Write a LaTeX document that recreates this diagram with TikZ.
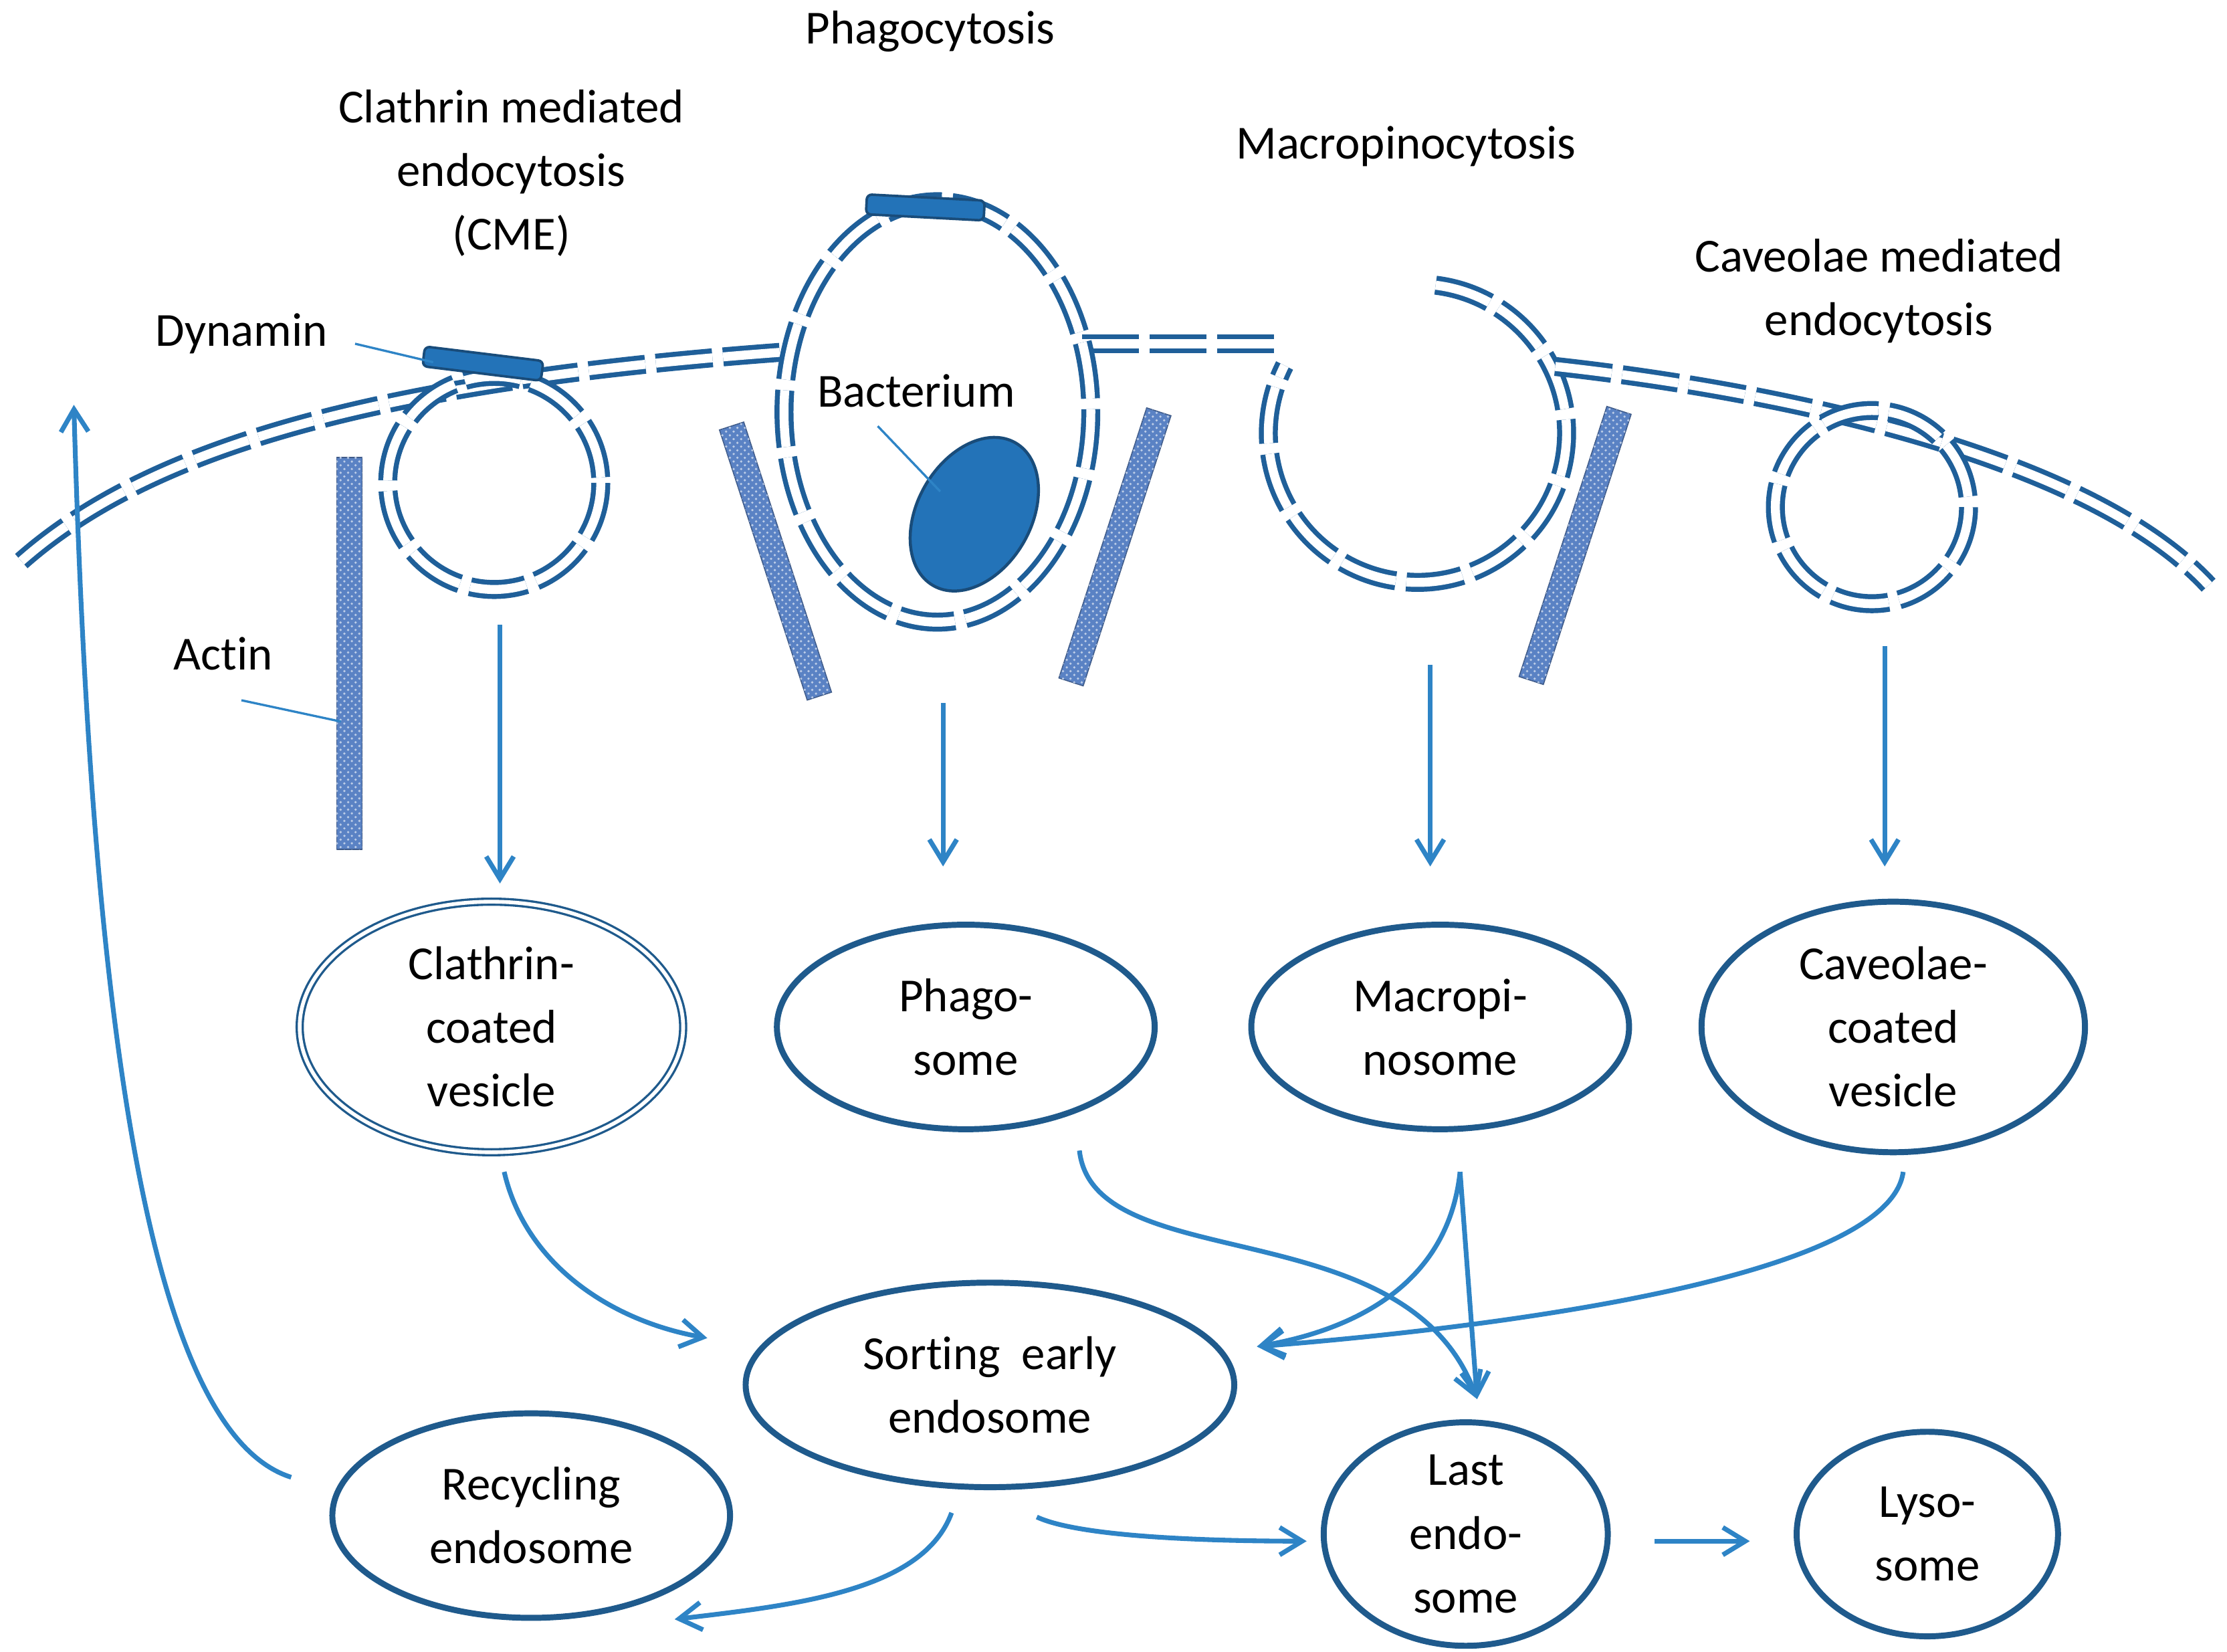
\documentclass[tikz,border=0pt]{standalone}
\usepackage{fontspec}
\setmainfont{Carlito}[Ligatures=NoCommon]
\usetikzlibrary{arrows.meta,patterns,shapes.geometric}
\definecolor{memb}{HTML}{1F5F99}
\definecolor{edge}{HTML}{1F5A8C}
\definecolor{arr}{HTML}{2E84C6}
\definecolor{actin}{HTML}{5A82C4}
\definecolor{bact}{HTML}{2373B8}
\begin{document}
\begin{tikzpicture}[x=0.02cm,y=-0.02cm,
  mem/.style={draw=memb,line width=2pt,double=white,double distance=3.6pt,dash pattern=on 0.8cm off 0.15cm},
  act/.style={draw=actin!70!black,line width=0.4pt,fill=actin,postaction={pattern=crosshatch dots,pattern color=white!60!actin}},
  ell/.style={ellipse,draw=edge,line width=2.4pt,align=center,font=\fontsize{19}{25.5}\selectfont},
  lab/.style={align=center,font=\fontsize{19}{25.5}\selectfont},
  ar/.style={draw=arr,line width=1.9pt,-{Straight Barb[length=9pt,width=11pt]}},
  pt/.style={draw=arr,line width=0.9pt}]
\useasboundingbox (0,0) rectangle (1568,1163);
% membrane
\draw[mem] (15,395) .. controls (100,320) and (250,270) .. (550,248);
\draw[mem] (762,242) -- (902,242);
\draw[mem] (998,305) ++(-83:105) arc[start angle=-83,end angle=207,radius=105];
\draw[mem] (1095,258) .. controls (1250,275) and (1470,320) .. (1555,412);
\draw[mem] (348,340) circle[radius=75];
\draw[mem] (1318,357) circle[radius=68];
\draw[mem] (660,290) ellipse[x radius=108,y radius=148];
% dynamin bars
\draw[draw=memb!80!black,fill=bact,line width=1pt,rounded corners=2pt,rotate around={-7:(340,256)}] (298,249) rectangle (382,263);
\draw[draw=memb!80!black,fill=bact,line width=1pt,rounded corners=2pt,rotate around={-3:(651,146)}] (610,139) rectangle (693,153);
% actin
\node[act,minimum width=18*0.02cm,minimum height=276*0.02cm,inner sep=0] (a1) at (246,460) {};
\node[act,minimum width=18*0.02cm,minimum height=200*0.02cm,inner sep=0,rotate=18] (a2) at (546,395) {};
\node[act,minimum width=18*0.02cm,minimum height=200*0.02cm,inner sep=0,rotate=-18] (a3) at (785,385) {};
\node[act,minimum width=18*0.02cm,minimum height=200*0.02cm,inner sep=0,rotate=-18] (a4) at (1109,384) {};
% bacterium
\node[ellipse,draw=memb!80!black,fill=bact,line width=1.2pt,minimum width=80*0.02cm,minimum height=116*0.02cm,rotate=-30,inner sep=0] (bac) at (686,362) {};
% labels
\node[lab] (tphago) at (655,22) {Phagocytosis};
\node[lab] (tcme) at (360,122) {Clathrin mediated\\endocytosis\\(CME)};
\node[lab] (tmacro) at (990,103) {Macropinocytosis};
\node[lab] (tcav) at (1323,205) {Caveolae mediated\\endocytosis};
\node[lab] (tdyn) at (170,235) {Dynamin};
\node[lab] (tbac) at (645,275) {Bacterium};
\node[lab] (tact) at (157,460) {Actin};
\coordinate (dynend) at (305,255); \coordinate (dynst) at (250,242);
\coordinate (bacst) at (618,300); \coordinate (bacend) at (662,346);
\coordinate (actst) at (170,493); \coordinate (actend) at (240,508);
\draw[pt] (dynst) -- (dynend);
\draw[pt] (bacst) -- (bacend);
\draw[pt] (actst) -- (actend);
% ellipses
\node[ell,double,double distance=1.5pt,line width=0.9pt,minimum width=270*0.02cm,minimum height=146*0.02cm] (cl) at (346,723) {Clathrin-\\coated\\vesicle};
\node[ell,minimum width=266*0.02cm,minimum height=144*0.02cm] (ph) at (680,723) {Phago-\\some};
\node[ell,minimum width=266*0.02cm,minimum height=144*0.02cm] (ma) at (1014,723) {Macropi-\\nosome};
\node[ell,minimum width=270*0.02cm,minimum height=144*0.02cm] (ca) at (1333,723) {Caveolae-\\coated\\vesicle};
\node[ell,minimum width=344*0.02cm,minimum height=144*0.02cm] (so) at (697,975) {Sorting\ \ early\\endosome};
\node[ell,minimum width=280*0.02cm,minimum height=144*0.02cm] (re) at (374,1067) {Recycling\\endosome};
\node[ell,minimum width=200*0.02cm,minimum height=144*0.02cm,inner sep=0] (la) at (1032,1080) {Last\\endo-\\some};
\node[ell,minimum width=184*0.02cm,minimum height=144*0.02cm] (ly) at (1357,1080) {Lyso-\\some};
% arrows
\coordinate (c1) at (352,440); \coordinate (c1e) at (352,622);
\coordinate (c2) at (664,495); \coordinate (c2e) at (664,610);
\coordinate (c3) at (1007,468); \coordinate (c3e) at (1007,610);
\coordinate (c4) at (1327,455); \coordinate (c4e) at (1327,610);
\draw[ar] (c1) -- (c1e);
\draw[ar] (c2) -- (c2e);
\draw[ar] (c3) -- (c3e);
\draw[ar] (c4) -- (c4e);
\coordinate (s1) at (355,825); \coordinate (e1) at (498,942);
\draw[ar] (s1) .. controls (370,890) and (430,930) .. (e1);
\coordinate (s2) at (760,810); \coordinate (e2) at (1040,985);
\draw[ar] (s2) .. controls (770,900) and (990,850) .. (e2);
\coordinate (s3) at (1028,825); \coordinate (e3) at (885,948);
\draw[ar] (s3) .. controls (1020,900) and (960,935) .. (e3);
\draw[ar] (s3) -- (e2);
\coordinate (s4) at (1340,825);
\draw[ar] (s4) .. controls (1330,900) and (1050,935) .. (e3);
\coordinate (s5) at (670,1065); \coordinate (e5) at (475,1140);
\draw[ar] (s5) .. controls (650,1120) and (560,1130) .. (e5);
\coordinate (s6) at (730,1068); \coordinate (e6) at (920,1085);
\draw[ar] (s6) .. controls (760,1082) and (850,1085) .. (e6);
\coordinate (s7) at (1165,1085); \coordinate (e7) at (1232,1085);
\draw[ar] (s7) -- (e7);
\coordinate (s8) at (205,1040); \coordinate (e8) at (52,285);
\draw[ar] (s8) .. controls (110,1010) and (65,750) .. (e8);
\end{tikzpicture}
\end{document}
